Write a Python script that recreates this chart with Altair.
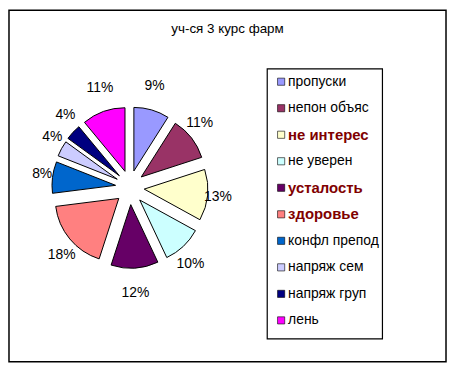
import altair as alt
import pandas as pd

# ---- data ----
categories = ["пропуски", "непон объяс", "не интерес", "не уверен", "усталость",
              "здоровье", "конфл препод", "напряж сем", "напряж груп", "лень"]
values = [9, 11, 13, 10, 12, 18, 8, 4, 4, 11]
colors = ["#9999FF", "#993366", "#FFFFCC", "#CCFFFF", "#660066",
          "#FF8080", "#0066CC", "#CCCCFF", "#000080", "#FF00FF"]
bold_items = ["не интерес", "усталость", "здоровье"]
title_text = ["уч-ся 3 курс фарм"]

df = pd.DataFrame({
    "cat": categories,
    "value": values,
    "idx": list(range(len(categories))),
    "bold": [c in bold_items for c in categories],
})

# ---- layout (pixels inside the chart frame) ----
W, H = 440, 354
CX, CY = 121.7, 178.5      # pie centre
DH, DV = 14.5, 17.3        # explosion offset
R = 64                     # slice radius
LRX, LRY = 89, 106         # label ellipse
LY0, STEP = 72, 26.7       # legend rows
FONT = "Liberation Sans"

color_scale = alt.Scale(domain=categories, range=colors)

base = (
    alt.Chart(df)
    .transform_joinaggregate(total="sum(value)")
    .transform_window(cum="sum(value)", sort=[alt.SortField("idx")], frame=[None, 0])
    .transform_calculate(
        f0="(datum.cum - datum.value) / datum.total",
        f1="datum.cum / datum.total",
        mid="(datum.cum - datum.value / 2) / datum.total * 2 * PI",
    )
    .transform_calculate(
        px=f"{CX} + {DH} * sin(datum.mid)",
        py=f"{CY} - {DV} * cos(datum.mid)",
        lx=f"{CX} + {LRX} * sin(datum.mid)",
        ly=f"{CY} - {LRY} * cos(datum.mid)",
        pct="format(datum.value / datum.total, '.0%')",
        gy=f"{LY0} + datum.idx * {STEP}",
    )
)

title = alt.Chart(pd.DataFrame({"t": title_text})).mark_text(
    font=FONT, fontSize=13.5, color="black", align="center", baseline="middle"
).encode(x=alt.value(W / 2), y=alt.value(19), text="t:N")

arcs = base.mark_arc(radius=R, stroke="black", strokeWidth=1).encode(
    x=alt.X("px:Q", scale=None, axis=None),
    y=alt.Y("py:Q", scale=None, axis=None),
    theta=alt.Theta("f0:Q", scale=alt.Scale(domain=[0, 1], range=[0, 6.283185307]), stack=None),
    theta2="f1:Q",
    color=alt.Color("cat:N", scale=color_scale, legend=None),
)

labels = base.mark_text(font=FONT, fontSize=14, color="black", baseline="middle", align="center").encode(
    x=alt.X("lx:Q", scale=None, axis=None),
    y=alt.Y("ly:Q", scale=None, axis=None),
    text="pct:N",
)

legend_box = alt.Chart(pd.DataFrame({"box": [1]})).mark_rect(
    fill="white", stroke="black", strokeWidth=1.2
).encode(
    x=alt.value(260), x2=alt.value(376), y=alt.value(59), y2=alt.value(331)
)

legend_sq = base.mark_square(size=52, stroke="black", strokeWidth=0.6, opacity=1).encode(
    x=alt.value(274),
    y=alt.Y("gy:Q", scale=None, axis=None),
    color=alt.Color("cat:N", scale=color_scale, legend=None),
)

legend_txt = base.transform_filter("!datum.bold").mark_text(
    font=FONT, fontSize=14, align="left", baseline="middle", color="black"
).encode(
    x=alt.value(281),
    y=alt.Y("gy:Q", scale=None, axis=None),
    text="cat:N",
)

legend_bold = base.transform_filter("datum.bold").mark_text(
    font=FONT, fontSize=15, fontWeight="bold", align="left", baseline="middle", color="#800000"
).encode(
    x=alt.value(281),
    y=alt.Y("gy:Q", scale=None, axis=None),
    text="cat:N",
)

chart = (
    alt.layer(title, arcs, labels, legend_box, legend_sq, legend_txt, legend_bold)
    .properties(
        width=W,
        height=H,
        background="white",
        autosize=alt.AutoSizeParams(type="none"),
        padding={"left": 1, "top": 1, "right": 1, "bottom": 1},
    )
    .configure_view(stroke="black", strokeWidth=1.5)
)

chart.save("out.html", embed_options={"renderer": "svg", "actions": False})
